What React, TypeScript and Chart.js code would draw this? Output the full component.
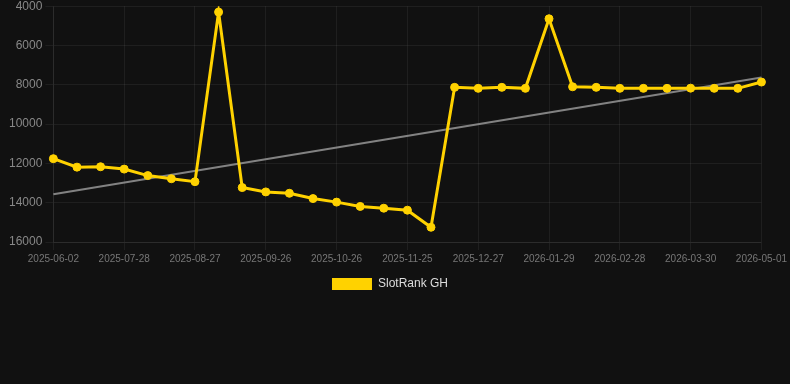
import React, { useEffect, useRef } from "react";
import { Chart, registerables } from "chart.js";

Chart.register(...registerables);

const labels: string[] = [
  "2025-06-02", "2025-06-28", "2025-07-18", "2025-07-28", "2025-08-07", "2025-08-17",
  "2025-08-27", "2025-09-06", "2025-09-16", "2025-09-26", "2025-10-06", "2025-10-16",
  "2025-10-26", "2025-11-05", "2025-11-15", "2025-11-25", "2025-12-06", "2025-12-16",
  "2025-12-27", "2026-01-07", "2026-01-18", "2026-01-29", "2026-02-08", "2026-02-18",
  "2026-02-28", "2026-03-10", "2026-03-20", "2026-03-30", "2026-04-10", "2026-04-20",
  "2026-05-01",
];

const rankValues: number[] = [
  11760, 12190, 12170, 12290, 12620, 12780, 12930, 4300, 13230, 13450, 13520, 13790,
  13970, 14190, 14280, 14380, 15250, 8130, 8180, 8130, 8180, 4640, 8100, 8130,
  8180, 8180, 8180, 8170, 8180, 8180, 7860,
];

const trendStart = 13570;
const trendEnd = 7630;

const yTicks: number[] = [4000, 6000, 8000, 10000, 12000, 14000, 16000];

export default function App() {
  const ref = useRef<HTMLCanvasElement | null>(null);

  useEffect(() => {
    document.body.style.margin = "0";
    document.body.style.background = "#111111";
    if (!ref.current) return;
    const trendData: (number | null)[] = labels.map(() => null);
    trendData[0] = trendStart;
    trendData[labels.length - 1] = trendEnd;

    const chart = new Chart(ref.current, {
      type: "line",
      data: {
        labels,
        datasets: [
          {
            label: "SlotRank GH",
            data: rankValues,
            borderColor: "#FFD200",
            backgroundColor: "#FFD200",
            borderWidth: 3,
            pointRadius: 4,
            pointBorderWidth: 1,
            pointHoverRadius: 4,
            pointBackgroundColor: "#FFD200",
            pointBorderColor: "#FFD200",
            tension: 0,
            order: 1,
          },
          {
            label: "Trend",
            data: trendData,
            borderColor: "rgba(150,150,150,0.85)",
            backgroundColor: "rgba(150,150,150,0.85)",
            borderWidth: 2,
            pointRadius: 0,
            spanGaps: true,
            tension: 0,
            order: 2,
          },
        ],
      },
      options: {
        animation: false,
        responsive: false,
        maintainAspectRatio: false,
        layout: { padding: { left: 6, right: 16, top: 0, bottom: 0 } },
        plugins: {
          legend: {
            position: "bottom",
            labels: {
              color: "#dddddd",
              font: { size: 12 },
              boxWidth: 40,
              filter: (item) => item.text === "SlotRank GH",
              generateLabels: (c) =>
                Chart.defaults.plugins.legend.labels
                  .generateLabels(c)
                  .map((it) => ({ ...it, lineWidth: 0, strokeStyle: "rgba(0,0,0,0)" })),
            },
          },
          tooltip: { enabled: false },
        },
        scales: {
          x: {
            grid: { color: "rgba(255,255,255,0.06)" },
            border: { color: "rgba(255,255,255,0.06)" },
            ticks: {
              color: "#777777",
              font: { size: 10 },
              autoSkip: false,
              maxRotation: 0,
              callback: (_v, i) => (i % 3 === 0 ? labels[i] : null),
            },
          },
          y: {
            reverse: true,
            min: yTicks[0],
            max: yTicks[yTicks.length - 1],
            afterBuildTicks: (axis) => {
              axis.ticks = yTicks.map((v) => ({ value: v }));
            },
            grid: { color: "rgba(255,255,255,0.06)" },
            border: { color: "rgba(255,255,255,0.06)" },
            ticks: {
              color: "#888888",
              font: { size: 12 },
              callback: (v) => String(v),
            },
          },
        },
      },
    });
    return () => chart.destroy();
  }, []);

  return (
    <div style={{ position: "fixed", left: 0, top: 0, width: 790, height: 384, background: "#111111", overflow: "hidden" }}>
      <canvas
        ref={ref}
        width={790}
        height={304}
        style={{ display: "block", position: "absolute", left: 0, top: -4, width: 790, height: 304 }}
      />
    </div>
  );
}
